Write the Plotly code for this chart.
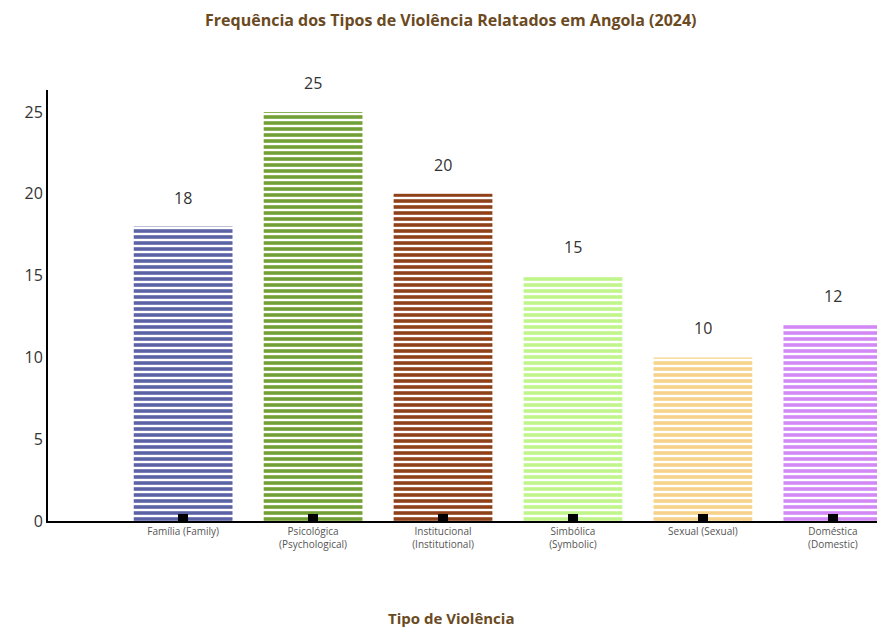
import plotly.graph_objects as go

categories = ["Família (Family)", "Psicológica<br>(Psychological)", "Institucional<br>(Institutional)",
              "Simbólica<br>(Symbolic)", "Sexual (Sexual)", "Doméstica<br>(Domestic)"]
values = [18, 25, 20, 15, 10, 12]
colors = ["#5b62a6", "#72a034", "#8f4119", "#c0f58a", "#f7d28a", "#d289f5"]
tints = ["rgba(91,98,166,0.2)", "rgba(114,160,52,0.2)", "rgba(143,65,25,0.2)",
         "rgba(192,245,138,0.2)", "rgba(247,210,138,0.2)", "rgba(210,137,245,0.2)"]

fig = go.Figure()
fig.add_trace(go.Bar(
    x=categories, y=values, width=0.76,
    marker=dict(color=colors, line=dict(width=0),
                pattern=dict(shape="-", fgcolor=colors, bgcolor=tints, size=6,
                             solidity=0.6, fillmode="replace")),
    hoverinfo="x+y",
))

for c, v in zip(categories, values):
    fig.add_annotation(x=c, y=v, text=str(v), showarrow=False, yshift=29,
                       font=dict(family="Open Sans", size=16, color="#333333"))

fig.add_annotation(text="<b>Tipo de Violência</b>", xref="paper", yref="paper",
                   x=0.486, y=-0.225, showarrow=False, xanchor="center", yanchor="middle",
                   font=dict(family="Open Sans", size=15, color="#6b4a1f"))

fig.update_layout(
    width=877, height=627,
    margin=dict(l=48, r=0, t=90, b=106),
    paper_bgcolor="white", plot_bgcolor="white",
    showlegend=False,
    title=dict(text="<b>Frequência dos Tipos de Violência Relatados em Angola (2024)</b>",
               x=0.514, xref="container", xanchor="center", y=0.968, yanchor="middle",
               font=dict(family="Open Sans", size=16, color="#6b4a1f")),
    xaxis=dict(range=[-1.04, 5.34], showgrid=False, zeroline=False,
               showline=True, linecolor="black", linewidth=2,
               ticks="inside", ticklen=7, tickwidth=10, tickcolor="black",
               tickfont=dict(family="Open Sans", size=10, color="#555555")),
    yaxis=dict(range=[0, 26.35], showgrid=False, zeroline=False,
               showline=True, linecolor="black", linewidth=2,
               tickvals=[0, 5, 10, 15, 20, 25], ticks="",
               tickfont=dict(family="Open Sans", size=16, color="#333333")),
)

fig.write_html("out.html", config={"displayModeBar": False},
               post_script="document.body.style.margin='0';document.body.style.overflow='hidden';")
